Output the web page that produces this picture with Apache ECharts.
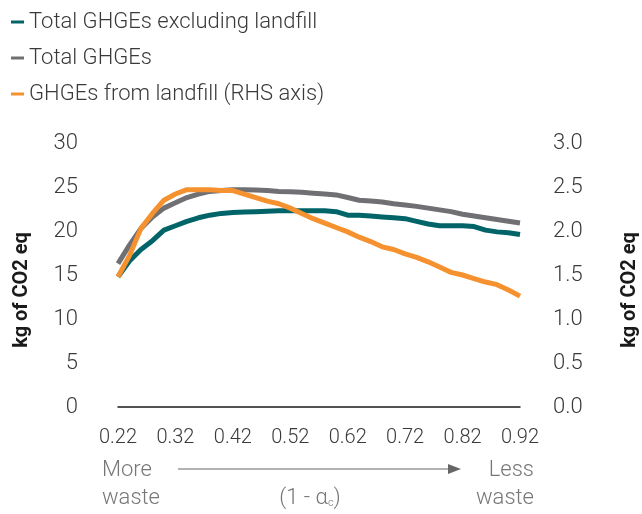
<!DOCTYPE html>
<html>
<head>
<meta charset="utf-8">
<script src="https://cdn.jsdelivr.net/npm/echarts@6/dist/echarts.min.js"></script>
<style>
  html, body { margin: 0; padding: 0; background: #fff; }
  #chart { width: 642px; height: 514px; }
</style>
</head>
<body>
<div id="chart"></div>
<script>
// x categories: 1 - alpha_c
const categories = ['0.22','0.24','0.26','0.28','0.30','0.32','0.34','0.36','0.38','0.40','0.42','0.44','0.46','0.48','0.50','0.52','0.54','0.56','0.58','0.60','0.62','0.64','0.66','0.68','0.70','0.72','0.74','0.76','0.78','0.80','0.82','0.84','0.86','0.88','0.90','0.92'];
const tickLabels = ['0.22','0.32','0.42','0.52','0.62','0.72','0.82','0.92'];

// kg of CO2 eq (LHS)
const exclLandfill = [14.8,16.6,17.9,18.9,20.1,20.6,21.1,21.5,21.8,22.0,22.1,22.15,22.2,22.25,22.3,22.3,22.3,22.3,22.3,22.2,21.8,21.8,21.7,21.6,21.5,21.4,21.1,20.8,20.6,20.6,20.6,20.5,20.1,19.9,19.8,19.6];
const totalGhge = [16.3,18.4,20.3,21.6,22.6,23.2,23.8,24.2,24.5,24.6,24.7,24.7,24.65,24.6,24.5,24.45,24.4,24.3,24.2,24.1,23.8,23.5,23.4,23.3,23.1,22.95,22.8,22.6,22.4,22.2,21.9,21.7,21.5,21.3,21.1,20.9];
// kg of CO2 eq (RHS)
const fromLandfill = [1.48,1.72,2.03,2.20,2.35,2.42,2.47,2.47,2.47,2.46,2.46,2.42,2.38,2.34,2.31,2.26,2.20,2.14,2.09,2.04,1.99,1.93,1.88,1.82,1.79,1.74,1.70,1.65,1.59,1.53,1.50,1.46,1.42,1.39,1.33,1.26];

const FONT = 'Roboto';
const chart = echarts.init(document.getElementById('chart'));

chart.setOption({
    animation: false,
    textStyle: { fontFamily: FONT },
    color: ['#006468', '#707074', '#f5922f'],
    legend: {
        orient: 'vertical',
        left: 6,
        top: 6,
        itemGap: 14,
        itemWidth: 13,
        itemHeight: 3,
        icon: 'rect',
        textStyle: { fontSize: 22, color: '#3a3a3a', fontFamily: FONT, fontWeight: 300 },
        data: ['Total GHGEs excluding landfill', 'Total GHGEs', 'GHGEs from landfill (RHS axis)']
    },
    grid: { left: 118, right: 122, top: 143, bottom: 107, outerBoundsMode: 'none' },
    xAxis: {
        type: 'category',
        data: categories,
        boundaryGap: false,
        axisLine: { lineStyle: { color: '#1a1a1a', width: 1.5 } },
        axisTick: { show: false },
        axisLabel: {
            margin: 21,
            fontSize: 20,
            color: '#3a3a3a',
            fontWeight: 300,
            interval: 0,
            formatter: v => tickLabels.includes(v) ? v : ''
        },
        name: '(1 - α{sub|c})',
        nameLocation: 'middle',
        nameGap: 80,
        nameTextStyle: {
            fontSize: 22, color: '#777', fontWeight: 300, padding: [0, 18, 0, 0],
            rich: { sub: { fontSize: 11, color: '#777', verticalAlign: 'bottom', padding: [10, 0, 0, 0] } }
        }
    },
    yAxis: [
        {
            type: 'value', min: 0, max: 30, interval: 5,
            axisLine: { show: false }, axisTick: { show: false }, splitLine: { show: false },
            axisLabel: { margin: 40, fontSize: 22, color: '#3a3a3a', fontWeight: 300 },
            name: 'kg of CO2 eq', nameLocation: 'middle', nameGap: 86,
            nameTextStyle: { fontSize: 20, fontWeight: 'bold', color: '#1a1a1a', padding: [0, 30, 0, 0] }
        },
        {
            type: 'value', min: 0, max: 3, interval: 0.5,
            axisLine: { show: false }, axisTick: { show: false }, splitLine: { show: false },
            axisLabel: { margin: 33, fontSize: 22, color: '#3a3a3a', fontWeight: 300, formatter: v => v.toFixed(1) },
            name: 'kg of CO2 eq', nameLocation: 'middle', nameGap: 100,
            nameTextStyle: { fontSize: 20, fontWeight: 'bold', color: '#1a1a1a', padding: [0, 30, 0, 0] }
        }
    ],
    graphic: [
        { type: 'text', x: 102, y: 456, style: { text: 'More\nwaste', font: '300 22px Roboto', fill: '#777', lineHeight: 28 } },
        { type: 'text', x: 534, y: 456, style: { text: 'Less\nwaste', font: '300 22px Roboto', fill: '#777', lineHeight: 28, align: 'right' } },
        { type: 'line', shape: { x1: 178, y1: 469, x2: 450, y2: 469 }, style: { stroke: '#666', lineWidth: 1.2 } },
        { type: 'polygon', shape: { points: [[448, 464], [461, 469], [448, 474]] }, style: { fill: '#666' } }
    ],
    series: [
        { name: 'Total GHGEs excluding landfill', type: 'line', yAxisIndex: 0, data: exclLandfill, symbol: 'none', lineStyle: { width: 5 } },
        { name: 'Total GHGEs', type: 'line', yAxisIndex: 0, data: totalGhge, symbol: 'none', lineStyle: { width: 5 } },
        { name: 'GHGEs from landfill (RHS axis)', type: 'line', yAxisIndex: 1, data: fromLandfill, symbol: 'none', lineStyle: { width: 5 } }
    ]
});
</script>
</body>
</html>
